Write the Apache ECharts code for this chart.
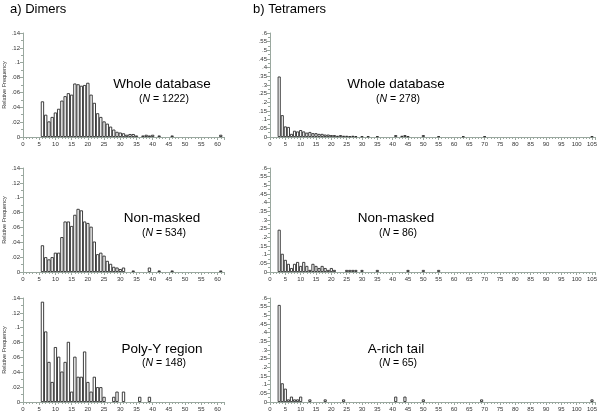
<!DOCTYPE html>
<html>
<head>
<meta charset="utf-8">
<script src="https://cdn.jsdelivr.net/npm/echarts@6/dist/echarts.min.js"></script>
<style>
  html, body { margin: 0; padding: 0; background: #fff; }
  #chart { width: 600px; height: 415px; }
</style>
</head>
<body>
<div id="chart"></div>
<script>
// ---- data: repeat length -> relative frequency ----
// a) dimers
const dimerWholeLen  = [6, 7, 8, 9, 10, 11, 12, 13, 14, 15, 16, 17, 18, 19, 20, 21, 22, 23, 24, 25, 26, 27, 28, 29, 30, 31, 32, 33, 34, 35, 37, 38, 39, 40, 42, 46, 61];
const dimerWholeFreq = [.048, .030, .021, .027, .033, .038, .049, .055, .059, .057, .072, .071, .069, .070, .073, .057, .046, .032, .027, .021, .018, .014, .010, .007, .006, .005, .003, .004, .004, .002, .002, .003, .002, .003, .002, .002, .003];

const dimerMaskLen  = [6, 7, 8, 9, 10, 11, 12, 13, 14, 15, 16, 17, 18, 19, 20, 21, 22, 23, 24, 25, 26, 27, 28, 29, 30, 31, 34, 39, 42, 46, 61];
const dimerMaskFreq = [.036, .020, .017, .020, .026, .026, .047, .068, .068, .062, .077, .085, .083, .068, .066, .061, .041, .024, .026, .022, .015, .011, .007, .006, .004, .006, .002, .006, .002, .002, .002];

const dimerPolyLen  = [6, 7, 8, 9, 10, 11, 12, 13, 14, 15, 16, 17, 18, 19, 20, 21, 22, 23, 24, 25, 28, 29, 31, 36, 39];
const dimerPolyFreq = [.135, .095, .054, .027, .074, .061, .041, .054, .081, .014, .061, .034, .034, .068, .027, .014, .034, .020, .020, .007, .007, .014, .014, .007, .007];

// b) tetramers
const tetraWholeLen  = [3, 4, 5, 6, 7, 8, 9, 10, 11, 12, 13, 14, 15, 16, 17, 18, 19, 20, 21, 22, 23, 24, 25, 26, 27, 28, 30, 32, 35, 41, 43, 44, 45, 50, 55, 63, 70, 105];
const tetraWholeFreq = [.349, .126, .061, .058, .018, .036, .032, .040, .032, .025, .029, .022, .022, .018, .018, .014, .014, .011, .011, .007, .011, .007, .007, .004, .007, .004, .004, .004, .004, .011, .007, .011, .004, .011, .004, .004, .004, .004];

const tetraMaskLen  = [3, 4, 5, 6, 7, 8, 9, 10, 11, 12, 13, 14, 15, 16, 17, 18, 19, 20, 21, 25, 26, 27, 28, 30, 35, 45, 50, 55];
const tetraMaskFreq = [.244, .105, .070, .047, .023, .047, .058, .035, .058, .035, .012, .047, .035, .023, .035, .023, .012, .023, .012, .012, .012, .012, .012, .012, .012, .012, .012, .012];

const tetraTailLen  = [3, 4, 5, 6, 7, 8, 9, 10, 13, 18, 24, 41, 44, 50, 69, 105];
const tetraTailFreq = [.56, .108, .077, .015, .031, .015, .015, .031, .015, .015, .015, .031, .031, .015, .015, .015];

const panelNames = ['Whole database', 'Non-masked', 'Poly-Y region', 'Whole database', 'Non-masked', 'A-rich tail'];
const panelN     = [1222, 534, 148, 278, 86, 65];
const headers    = ['a) Dimers', 'b) Tetramers'];

const lens  = [dimerWholeLen, dimerMaskLen, dimerPolyLen, tetraWholeLen, tetraMaskLen, tetraTailLen];
const freqs = [dimerWholeFreq, dimerMaskFreq, dimerPolyFreq, tetraWholeFreq, tetraMaskFreq, tetraTailFreq];

// ---- layout ----
const FONT = '"Liberation Sans", Arial, sans-serif';
const rowTop = [33, 168, 298];
const rowH = 104;
const col = [
  { left: 21,  width: 203, xMax: 62,  yMax: 0.14, yStep: 0.02, textX: 162 },
  { left: 270, width: 327, xMax: 106, yMax: 0.6,  yStep: 0.05, textX: 396 }
];
const nameY = [[84, 99], [218, 233], [349, 363]];

const axisColor = '#9aa89f';

function yFmt(v) {
  if (v === 0) return '0';
  return String(+v.toFixed(2)).replace(/^0/, '');
}

let grid = [], xAxis = [], yAxis = [], series = [], graphic = [];

for (let i = 0; i < 6; i++) {
  const c = col[Math.floor(i / 3)];
  const r = i % 3;
  grid.push({ left: c.left, top: rowTop[r], width: c.width, height: rowH });

  xAxis.push({
    type: 'value', gridIndex: i, min: 0, max: c.xMax, interval: 5,
    splitLine: { show: false },
    axisLine: { lineStyle: { color: axisColor, width: 1 } },
    axisTick: { length: 3, lineStyle: { color: axisColor } },
    minorTick: { show: true, splitNumber: 5, length: 2, lineStyle: { color: axisColor } },
    axisLabel: {
      fontSize: 6, color: '#333', fontFamily: FONT, margin: 4,
      formatter: v => (v % 5 === 0 ? String(v) : '')
    }
  });

  yAxis.push({
    type: 'value', gridIndex: i, min: 0, max: c.yMax, interval: c.yStep,
    splitLine: { show: false },
    axisLine: { show: true, lineStyle: { color: axisColor, width: 1 } },
    axisTick: { show: true, length: 3, lineStyle: { color: axisColor } },
    minorTick: { show: true, splitNumber: 2, length: 2, lineStyle: { color: axisColor } },
    axisLabel: { fontSize: 6, color: '#333', fontFamily: FONT, margin: 3, formatter: yFmt },
    name: i < 3 ? 'Relative Frequency' : '',
    nameLocation: 'middle', nameRotate: 90, nameGap: 16,
    nameTextStyle: { fontSize: 5.5, color: '#333', fontFamily: FONT }
  });

  series.push({
    type: 'bar', xAxisIndex: i, yAxisIndex: i,
    barWidth: c.width / c.xMax,
    itemStyle: { color: '#fff', borderColor: '#2a2a2a', borderWidth: 0.9 },
    data: lens[i].map((x, k) => [x, freqs[i][k]]),
    silent: true
  });

  graphic.push({
    type: 'text', x: c.textX, y: nameY[r][0],
    style: { text: panelNames[i], font: '13.5px ' + FONT, fill: '#000', textAlign: 'center', textVerticalAlign: 'middle' }
  });
  graphic.push({
    type: 'text', x: c.textX + 2, y: nameY[r][1],
    style: {
      text: '({n|N} = ' + panelN[i] + ')',
      font: '10.5px ' + FONT, fill: '#000', textAlign: 'center', textVerticalAlign: 'middle',
      rich: { n: { fontStyle: 'italic', fontSize: 10.5, fontFamily: FONT, fill: '#000' } }
    }
  });
}

graphic.push({ type: 'text', x: 10, y: 9, style: { text: headers[0], font: '13px ' + FONT, fill: '#000', textVerticalAlign: 'middle' } });
graphic.push({ type: 'text', x: 253, y: 9, style: { text: headers[1], font: '13px ' + FONT, fill: '#000', textVerticalAlign: 'middle' } });

const myChart = echarts.init(document.getElementById('chart'));
myChart.setOption({
  animation: false,
  grid: grid,
  xAxis: xAxis,
  yAxis: yAxis,
  series: series,
  graphic: graphic
});
</script>
</body>
</html>
